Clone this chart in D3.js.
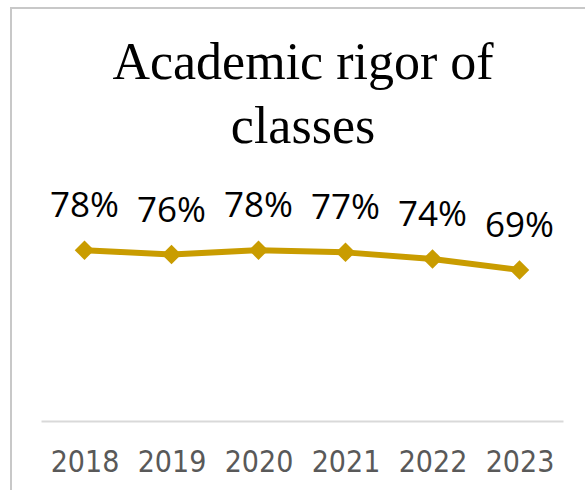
<!DOCTYPE html>
<html>
<head>
<meta charset="utf-8">
<script src="https://cdn.jsdelivr.net/npm/d3@7"></script>
<style>
  body { margin: 0; background: #fff; }
  .title { font-family: "Liberation Serif", serif; font-size: 52px; fill: #000; }
  .label { font-family: "Open Sans", sans-serif; font-size: 35px; fill: #000; }
  .axis text { font-family: "DejaVu Sans Condensed", "DejaVu Sans", sans-serif; font-size: 30px; fill: #595959; }
</style>
</head>
<body>
<div id="chart"></div>
<script>
const years = ["2018", "2019", "2020", "2021", "2022", "2023"]
const values = [0.78, 0.76, 0.78, 0.77, 0.74, 0.69]
const titleLines = ["Academic rigor of", "classes"]

const width = 585, height = 490
const margins = { top: 202, right: 22, bottom: 69, left: 41 }

const svg = d3.select('#chart')
    .append('svg')
    .attr('width', width)
    .attr('height', height)

// chart frame, cut off at the right and bottom edges
svg.append('rect')
    .attr('x', 11).attr('y', 8)
    .attr('width', width).attr('height', height)
    .attr('fill', '#fff')
    .attr('stroke', '#c8c8c8')
    .attr('stroke-width', 2)

svg.selectAll('.title')
    .data(titleLines)
    .join('text')
    .attr('class', 'title')
    .attr('x', 303)
    .attr('y', (d, i) => 79 + i * 64)
    .attr('text-anchor', 'middle')
    .text(d => d)

const xScale = d3.scalePoint()
    .domain(years)
    .range([margins.left, width - margins.right])
    .padding(0.5)

const yScale = d3.scaleLinear()
    .domain([0, 1])
    .range([height - margins.bottom, margins.top])

const base = height - margins.bottom

svg.append('g')
    .attr('class', 'axis')
    .attr('transform', `translate(0, ${base})`)
    .call(d3.axisBottom(xScale).tickSize(0).tickPadding(51).tickSizeOuter(0))
    .call(g => g.select('.domain').attr('stroke', '#d9d9d9').attr('stroke-width', 2))
    .call(g => g.selectAll('text').attr('dy', 0))

svg.append('path')
    .datum(values)
    .attr('fill', 'none')
    .attr('stroke', '#c99c00')
    .attr('stroke-width', 6)
    .attr('stroke-linejoin', 'round')
    .attr('d', d3.line()
        .x((d, i) => xScale(years[i]))
        .y(d => yScale(d)))

// diamonds: squares turned 45 degrees
svg.selectAll('.marker')
    .data(values)
    .join('path')
    .attr('class', 'marker')
    .attr('fill', '#c99c00')
    .attr('transform', (d, i) => `translate(${xScale(years[i])}, ${yScale(d)}) rotate(45)`)
    .attr('d', d3.symbol(d3.symbolSquare, 190))

svg.selectAll('.label')
    .data(values)
    .join('text')
    .attr('class', 'label')
    .attr('x', (d, i) => xScale(years[i]))
    .attr('y', d => yScale(d) - 33)
    .attr('text-anchor', 'middle')
    .text(d => d3.format('.0%')(d))
</script>
</body>
</html>
